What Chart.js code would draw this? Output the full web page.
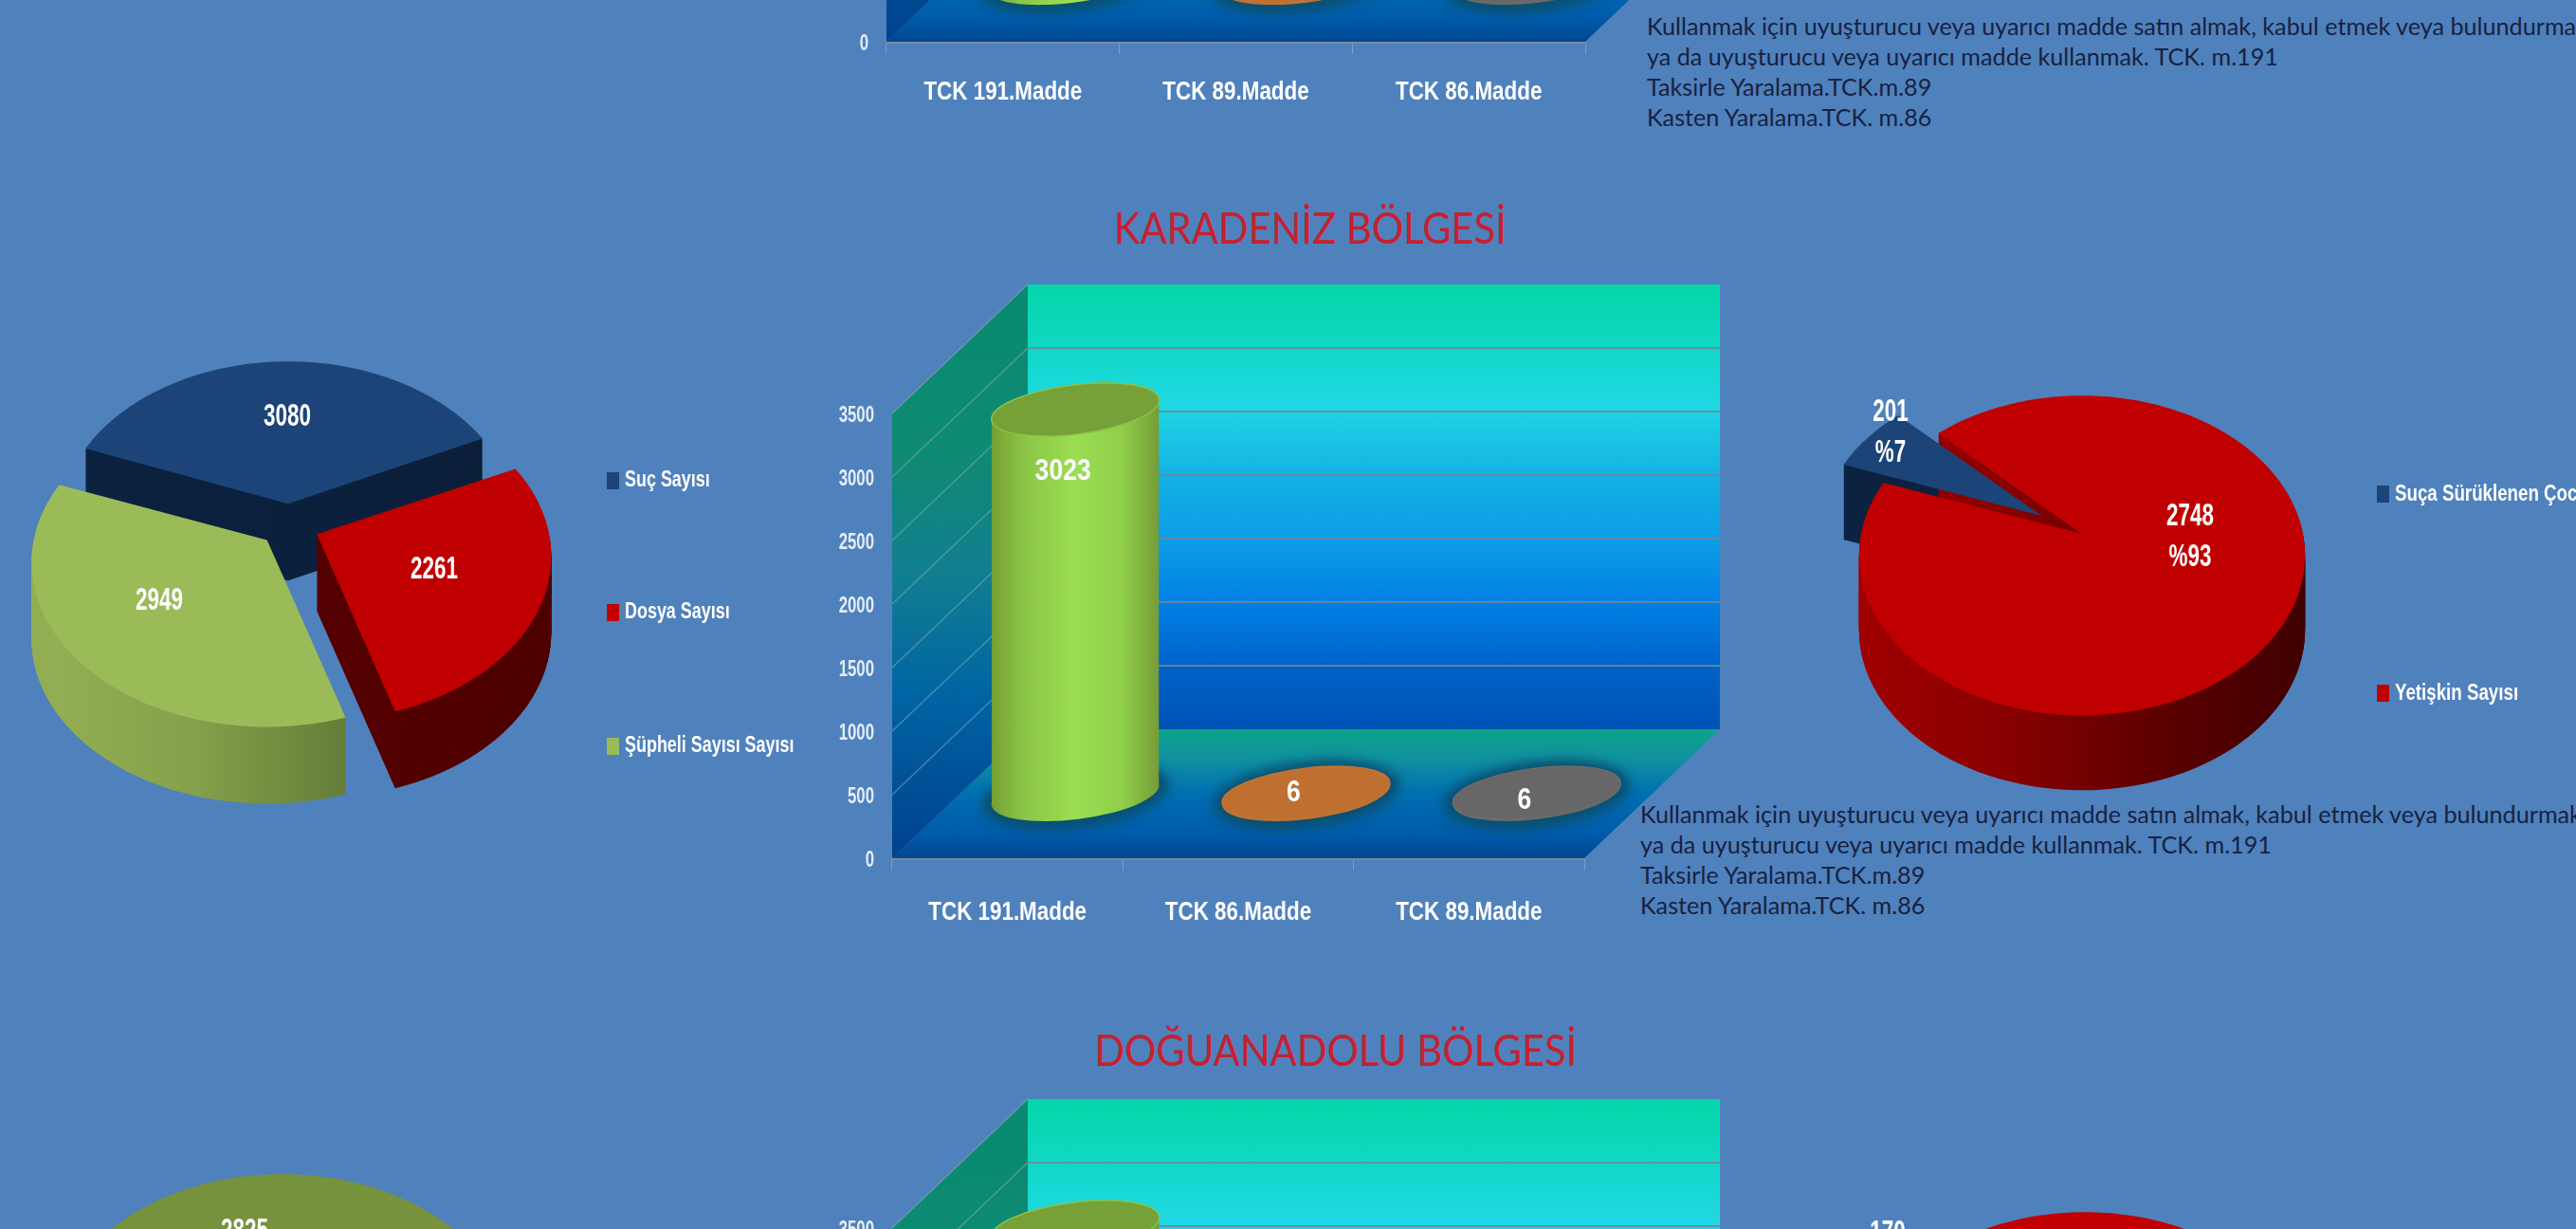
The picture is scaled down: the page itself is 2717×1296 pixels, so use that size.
<!DOCTYPE html>
<html lang="tr">
<head>
<meta charset="utf-8">
<title>Bölgeler</title>
<script src="https://cdn.jsdelivr.net/npm/chart.js@4"></script>
<style>
    html, body { margin: 0; padding: 0; background: #4F81BD; }
    body { position: relative; width: 2717px; height: 1296px; overflow: hidden; }
    canvas { position: absolute; }
    .title { position: absolute; color: #c8202e; font-family: Lato, sans-serif; font-size: 46px; white-space: nowrap; transform: translateX(-50%) scaleX(0.905); }
    .note { position: absolute; color: #18213f; font-family: Lato, sans-serif; font-size: 25.2px; line-height: 32px; white-space: nowrap; }
</style>
</head>
<body>
<div class="title" style="left:1382px;top:212px">KARADENİZ BÖLGESİ</div>
<div class="title" style="left:1409px;top:1079px">DOĞUANADOLU BÖLGESİ</div>
<div class="note" id="note1" style="left:1737px;top:11px"></div>
<div class="note" id="note2" style="left:1730px;top:842px"></div>
<script>
'use strict'
// top chart (only the bottom of it is on the page)
let topBarLabels = ['TCK 191.Madde', 'TCK 89.Madde', 'TCK 86.Madde'];
let topBarValues = [2900, 8, 7];

// karadeniz
let karaPieLabels = ['Suç Sayısı', 'Dosya Sayısı', 'Şüpheli Sayısı Sayısı'];
let karaPieValues = [3080, 2261, 2949];
let karaBarLabels = ['TCK 191.Madde', 'TCK 86.Madde', 'TCK 89.Madde'];
let karaBarValues = [3023, 6, 6];
let karaAgeLabels = ['Suça Sürüklenen Çocuk Sayısı', 'Yetişkin Sayısı'];
let karaAgeValues = [201, 2748];

// doguanadolu (cut by the bottom of the page)
let doguPieLabels = ['Şüpheli Sayısı Sayısı', 'Suç Sayısı', 'Dosya Sayısı'];
let doguPieValues = [2825, 2300, 2700];
let doguBarLabels = ['TCK 191.Madde', 'TCK 86.Madde', 'TCK 89.Madde'];
let doguBarValues = [3000, 6, 6];
let doguAgeLabels = ['Suça Sürüklenen Çocuk Sayısı', 'Yetişkin Sayısı'];
let doguAgeValues = [170, 2655];

let yTicks = [0, 500, 1000, 1500, 2000, 2500, 3000, 3500];

let noteLines1 = [
    'Kullanmak için uyuşturucu veya uyarıcı madde satın almak, kabul etmek veya bulundurmak',
    'ya da uyuşturucu veya uyarıcı madde kullanmak. TCK. m.191',
    'Taksirle Yaralama.TCK.m.89',
    'Kasten Yaralama.TCK. m.86'
];

document.getElementById('note1').innerHTML = noteLines1.join('<br>');
document.getElementById('note2').innerHTML = noteLines1.join('<br>');

const FONT = '"Liberation Sans", sans-serif';
const TICK_WHITE = '#e4ecf6';

function newCanvas(left, top, w, h) {
    let c = document.createElement('canvas');
    c.width = w;
    c.height = h;
    c.style.left = left + 'px';
    c.style.top = top + 'px';
    c.style.width = w + 'px';
    c.style.height = h + 'px';
    document.body.appendChild(c);
    return c;
}

function stops(g, list) {
    list.forEach(s => g.addColorStop(s[0], s[1]));
    return g;
}

// there is no condensed font on the machine, so squeeze the bold one
function squeezed(ctx, text, x, y, size, squeeze, align) {
    ctx.save();
    ctx.translate(x, y);
    ctx.scale(squeeze, 1);
    ctx.font = 'bold ' + size + 'px ' + FONT;
    ctx.textAlign = align || 'center';
    ctx.textBaseline = 'middle';
    ctx.fillText(text, 0, 0);
    ctx.restore();
}

// ---------- 3d cylinder bars ----------
const DEPTH_X = 143;
const DEPTH_Y = 136;
const TILT = -0.125;
const RY = 26;
const EDGE = 11;

let wallPlugin = {
    id: 'wall3d',
    beforeDatasetsDraw(chart) {
        let ctx = chart.ctx;
        let a = chart.chartArea;
        let y = chart.scales.y;
        let bl = { x: a.left, y: a.bottom };

        ctx.save();
        // floor
        let g = ctx.createLinearGradient(0, a.bottom - DEPTH_Y, 0, a.bottom);
        ctx.fillStyle = stops(g, [[0, '#0aa48a'], [0.22, '#1092a0'], [0.5, '#006fb2'], [0.85, '#0058a8'], [1, '#00468f']]);
        ctx.beginPath();
        ctx.moveTo(bl.x, bl.y);
        ctx.lineTo(a.right, bl.y);
        ctx.lineTo(a.right + DEPTH_X, bl.y - DEPTH_Y);
        ctx.lineTo(bl.x + DEPTH_X, bl.y - DEPTH_Y);
        ctx.closePath();
        ctx.fill();

        // back wall
        g = ctx.createLinearGradient(0, a.top - DEPTH_Y, 0, a.bottom - DEPTH_Y);
        ctx.fillStyle = stops(g, [[0, '#05d6a8'], [0.14, '#10d8c4'], [0.27, '#20d8e4'], [0.42, '#14b4e4'], [0.6, '#0b98e6'], [0.72, '#0080e4'], [0.86, '#0062c8'], [1, '#0052b4']]);
        ctx.fillRect(a.left + DEPTH_X, a.top - DEPTH_Y, a.width, a.height);

        // left wall
        g = ctx.createLinearGradient(0, a.top - DEPTH_Y, 0, a.bottom);
        ctx.fillStyle = stops(g, [[0, '#088a70'], [0.3, '#0f8a74'], [0.5, '#117f90'], [0.72, '#0064a4'], [1, '#00408c']]);
        ctx.beginPath();
        ctx.moveTo(a.left, a.top);
        ctx.lineTo(a.left + DEPTH_X, a.top - DEPTH_Y);
        ctx.lineTo(a.left + DEPTH_X, a.bottom - DEPTH_Y);
        ctx.lineTo(a.left, a.bottom);
        ctx.closePath();
        ctx.fill();

        // grid lines follow the y scale round both walls
        y.ticks.forEach(t => {
            if (t.value === 0) return;
            let py = y.getPixelForValue(t.value);
            ctx.strokeStyle = 'rgba(150,170,180,0.5)';
            ctx.lineWidth = 1.5;
            ctx.beginPath();
            ctx.moveTo(a.left, py);
            ctx.lineTo(a.left + DEPTH_X, py - DEPTH_Y);
            ctx.stroke();
            if (t.value < 3500) {
                ctx.strokeStyle = 'rgba(110,135,150,0.85)';
                ctx.lineWidth = 2;
                ctx.beginPath();
                ctx.moveTo(a.left + DEPTH_X, py - DEPTH_Y);
                ctx.lineTo(a.right + DEPTH_X, py - DEPTH_Y);
                ctx.stroke();
            }
        });
        ctx.restore();
    },
    beforeDatasetDraw(chart, args) {
        let ctx = chart.ctx;
        let meta = chart.getDatasetMeta(args.index);
        let looks = chart.options.plugins.cylinder;

        meta.data.forEach((bar, i) => {
            let cx = bar.x + DEPTH_X / 2;
            let top = bar.y - DEPTH_Y / 2;
            let base = bar.base - DEPTH_Y / 2 + 1;
            let hw = bar.width / 2;
            let look = looks.colors[i];

            ctx.save();
            // glow on the floor, wider than the bar
            ctx.fillStyle = '#0a4f6e';
            ctx.filter = 'blur(6px)';
            ctx.beginPath();
            ctx.ellipse(cx, base, hw + 11, RY + 9, TILT, 0, Math.PI * 2);
            ctx.fill();
            ctx.filter = 'none';

            let g = ctx.createLinearGradient(cx - hw, 0, cx + hw, 0);
            stops(g, look.stops);
            ctx.fillStyle = g;
            ctx.beginPath();
            ctx.ellipse(cx, base, hw + 1, RY, TILT, 0, Math.PI * 2);
            ctx.fill();
            ctx.beginPath();
            ctx.moveTo(cx - hw, top + EDGE);
            ctx.lineTo(cx + hw, top - EDGE);
            ctx.lineTo(cx + hw, base - EDGE);
            ctx.lineTo(cx - hw, base + EDGE);
            ctx.closePath();
            ctx.fill();

            // top of the cylinder
            ctx.fillStyle = look.top;
            ctx.beginPath();
            ctx.ellipse(cx, top, hw + 1, RY, TILT, 0, Math.PI * 2);
            ctx.fill();
            ctx.strokeStyle = look.rim;
            ctx.lineWidth = 1.5;
            ctx.stroke();

            // value
            let value = chart.data.datasets[args.index].data[i];
            ctx.fillStyle = '#ffffff';
            squeezed(ctx, String(value), cx - 13, top + looks.labelDown[i], 32, 0.83);
            ctx.restore();
        });
        return false;
    },
    afterDraw(chart) {
        // tick labels come off the scales, drawn here so they can be squeezed
        let ctx = chart.ctx;
        let looks = chart.options.plugins.cylinder;
        let yScale = chart.scales.y;
        let xScale = chart.scales.x;
        ctx.save();
        ctx.fillStyle = TICK_WHITE;
        yScale.ticks.forEach(t => {
            squeezed(ctx, String(t.value), chart.chartArea.left - 19, yScale.getPixelForValue(t.value) + 3, 23, 0.73, 'right');
        });
        ctx.fillStyle = '#ffffff';
        chart.data.labels.forEach((label, i) => {
            squeezed(ctx, label, xScale.getPixelForValue(i), chart.chartArea.bottom + looks.labelGap, 28, 0.8);
        });
        ctx.restore();
    }
};

let greenBar = {
    stops: [[0, '#74a034'], [0.2, '#8cc646'], [0.5, '#9ade52'], [0.78, '#90cf4a'], [1, '#769c36']],
    top: '#76a038', rim: '#8fc046'
};
let orangeBar = {
    stops: [[0, '#c07030'], [0.5, '#c07232'], [1, '#b86c2c']],
    top: '#bf7030', rim: '#c27434'
};
let grayBar = {
    stops: [[0, '#686868'], [1, '#646464']],
    top: '#676767', rim: '#6c6c6c'
};

function barChart(left, top, plotW, labels, values, colors, labelDown, labelGap) {
    let w = 1000, h = 720;
    let c = newCanvas(left, top, w, h);
    return new Chart(c, {
        type: 'bar',
        data: {
            labels: labels,
            datasets: [{
                data: values,
                backgroundColor: colors.map(k => k.top),
                barPercentage: 0.724,
                categoryPercentage: 1,
                clip: false
            }]
        },
        options: {
            responsive: false,
            animation: false,
            layout: { padding: { left: 0, top: 156, right: w - 81 - plotW, bottom: 0 } },
            plugins: {
                legend: { display: false },
                tooltip: { enabled: false },
                cylinder: { colors: colors, labelDown: labelDown, labelGap: labelGap }
            },
            scales: {
                y: {
                    min: 0,
                    max: 3500,
                    afterBuildTicks(s) { s.ticks = yTicks.map(v => ({ value: v })); },
                    afterFit(s) { s.width = 81; },
                    grid: { display: false },
                    border: { display: false },
                    ticks: { display: false }
                },
                x: {
                    afterFit(s) { s.height = h - 156 - 469; },
                    grid: {
                        drawOnChartArea: false,
                        color: 'rgba(165,180,195,0.55)',
                        tickLength: 13
                    },
                    border: { display: true, color: 'rgba(125,140,155,0.9)', width: 3 },
                    ticks: { display: false }
                }
            }
        },
        plugins: [wallPlugin]
    });
}

// ---------- 3d pies ----------
const ASPECT = 0.71;
const PERSP = 0.135;

function projected(th, r) {
    let u = r * Math.sin(th);
    let v = -r * Math.cos(th);
    let w = 1 - PERSP * v / r;
    return { x: u / w, y: ASPECT * v / w };
}

function slicePath(ctx, arc, dy, stretch) {
    let start = arc.startAngle + Math.PI / 2;
    let end = arc.endAngle + Math.PI / 2;
    let mid = (start + end) / 2;
    let off = arc.options.offset || 0;
    let ax = arc.x + off * Math.sin(mid);
    let ay = arc.y - off * Math.cos(mid) * ASPECT + dy;
    ctx.beginPath();
    ctx.moveTo(ax, ay);
    let n = Math.max(8, Math.round((end - start) * 40));
    for (let i = 0; i <= n; i++) {
        let p = projected(start + (end - start) * i / n, arc.outerRadius);
        ctx.lineTo(ax + p.x * stretch, ay + p.y);
    }
    ctx.closePath();
}

let piePlugin = {
    id: 'pie3d',
    beforeDatasetDraw(chart, args) {
        let ctx = chart.ctx;
        let o = chart.options.plugins.pie3d;
        let arcs = chart.getDatasetMeta(args.index).data;
        let colors = chart.data.datasets[args.index].backgroundColor;
        let depth = o.depth;

        ctx.save();
        // walls first so a neighbour's top can sit over them
        arcs.forEach((arc, i) => {
            let g = ctx.createLinearGradient(arc.x - arc.outerRadius, 0, arc.x + arc.outerRadius, 0);
            ctx.fillStyle = stops(g, o.sides[i]);
            for (let d = depth; d > 0; d -= 1) {
                slicePath(ctx, arc, d, o.stretch[i]);
                ctx.fill();
            }
        });
        arcs.forEach((arc, i) => {
            ctx.fillStyle = colors[i];
            slicePath(ctx, arc, 0, o.stretch[i]);
            ctx.fill();
        });

        // value labels
        ctx.fillStyle = '#ffffff';
        let values = chart.data.datasets[args.index].data;
        let total = values.reduce((s, v) => s + v, 0);
        arcs.forEach((arc, i) => {
            let at = o.labelAt[i];
            if (!at) return;
            squeezed(ctx, String(values[i]), arc.x + at[0], arc.y + at[1], o.fontSize, 0.68);
            if (o.percent) {
                squeezed(ctx, '%' + Math.round(values[i] / total * 100), arc.x + at[0], arc.y + at[1] + o.percent, o.fontSize, 0.68);
            }
        });

        // legend
        if (o.legend) {
            chart.data.labels.forEach((label, i) => {
                let ly = o.legend.y[i];
                ctx.fillStyle = colors[i];
                ctx.fillRect(o.legend.x, ly - 9, 13, 18);
                ctx.fillStyle = '#ffffff';
                squeezed(ctx, label, o.legend.x + 19, ly, o.legend.size, 0.78, 'left');
            });
        }
        ctx.restore();
        return false;
    }
};

function pieChart(cx, cy, radius, labels, values, colors, offsets, rotation, look) {
    let w = 1000, h = 640;
    let c = newCanvas(cx - 320, cy - 240, w, h);
    return new Chart(c, {
        type: 'pie',
        data: {
            labels: labels,
            datasets: [{
                data: values,
                backgroundColor: colors,
                offset: offsets,
                borderWidth: 0
            }]
        },
        options: {
            responsive: false,
            animation: false,
            rotation: rotation,
            radius: radius,
            layout: { padding: { left: 0, top: 0, right: w - 640, bottom: h - 480 } },
            plugins: {
                legend: { display: false },
                tooltip: { enabled: false },
                pie3d: look
            }
        },
        plugins: [piePlugin]
    });
}

let darkBlueSide = [[0, '#0b2240'], [1, '#0a1e38']];
let greenSide = [[0, '#93ad52'], [0.3, '#84a04a'], [0.7, '#5f7434'], [1, '#465526']];
let redSide = [[0, '#5e0000'], [1, '#4e0000']];
let redSideLit = [[0, '#a00000'], [0.35, '#860000'], [0.7, '#5a0000'], [1, '#400000']];

// ---------- page ----------
barChart(854, -581, 737, topBarLabels, topBarValues, [greenBar, orangeBar, grayBar], [65, 0, 8], 53);

pieChart(305, 554, 240, karaPieLabels, karaPieValues, ['#1c4478', '#c00000', '#9bbb59'], 32, -69, {
    depth: 81,
    sides: [darkBlueSide, redSide, greenSide],
    stretch: [1, 1.02, 1.025],
    labelAt: [[-2, -114], [153, 47], [-137, 80]],
    fontSize: 33,
    legend: { x: 655, y: [193, 332, 473], size: 23 }
});
barChart(860, 280, 730, karaBarLabels, karaBarValues, [greenBar, orangeBar, grayBar], [65, 0, 8], 57);
pieChart(2196, 563, 233, karaAgeLabels, karaAgeValues, ['#1c4478', '#c00000'], [50, 0], -70, {
    depth: 79,
    sides: [darkBlueSide, redSideLit],
    stretch: [1, 1],
    labelAt: [[-202, -128], [114, -18]],
    percent: 43,
    fontSize: 33,
    legend: { x: 631, y: [198, 408], size: 24 }
});

pieChart(300, 1411, 240, doguPieLabels, doguPieValues, ['#76923c', '#c00000', '#1c4478'], 32, -69, {
    depth: 81,
    sides: [greenSide, redSide, darkBlueSide],
    stretch: [1, 1, 1],
    labelAt: [[-42, -112], null, null],
    fontSize: 33
});
barChart(860, 1139, 730, doguBarLabels, doguBarValues, [greenBar, orangeBar, grayBar], [65, 0, 8], 57);
pieChart(2199, 1424, 233, doguAgeLabels, doguAgeValues, ['#1c4478', '#c00000'], [50, 0], -70, {
    depth: 79,
    sides: [darkBlueSide, redSideLit],
    stretch: [1, 1],
    labelAt: [[-208, -123], null],
    fontSize: 33
});
</script>
</body>
</html>
